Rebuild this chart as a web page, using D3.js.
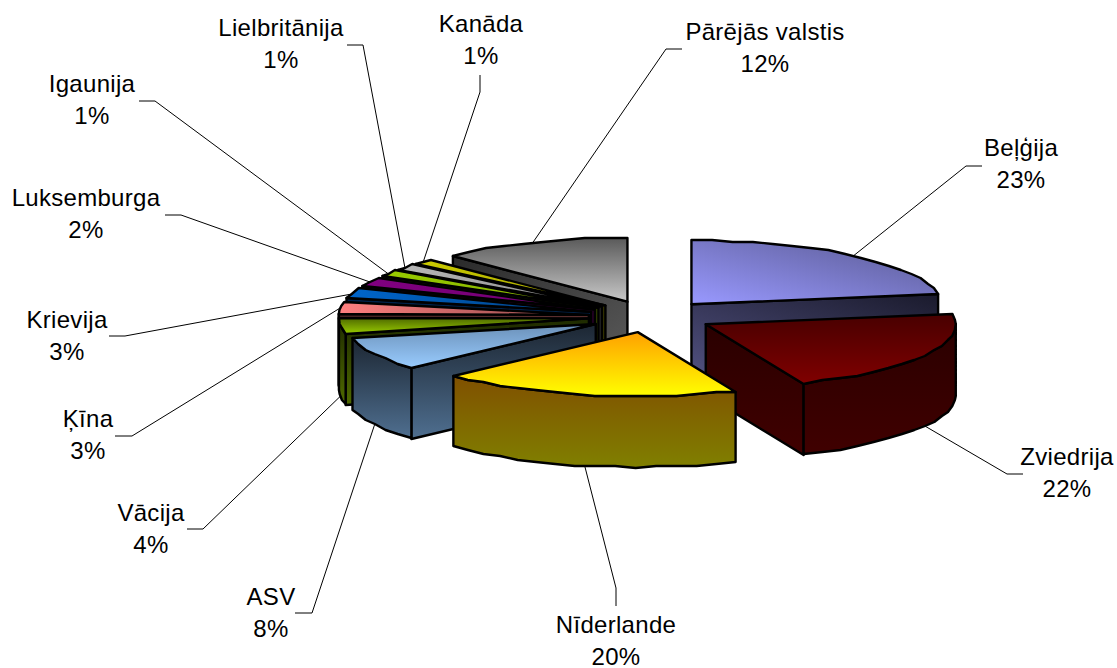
<!DOCTYPE html>
<html>
<head>
<meta charset="utf-8">
<script src="https://cdn.jsdelivr.net/npm/d3@7/dist/d3.min.js"></script>
<style>
html,body{margin:0;padding:0;background:#fff;overflow:hidden}
svg{display:block}
text{font-family:"Liberation Sans",Arial,sans-serif;font-size:24px;letter-spacing:.3px;fill:#000;text-anchor:middle}
</style>
</head>
<body>
<svg id="chart" width="1117" height="668"></svg>
<script>
// Data (share of the pie, clockwise from 12 o'clock)
const categories = ["Beļģija","Zviedrija","Nīderlande","ASV","Vācija","Ķīna","Krievija","Luksemburga","Igaunija","Lielbritānija","Kanāda","Pārējās valstis"];
const values     = [22.4,21.2,19.6,8.1,3.7,3.3,2.7,2.4,1.45,1.45,1.4,12.3];
const percentLabels = [23,22,20,8,4,3,3,2,1,1,1,12];

// Styling per slice
const topFills  = [["#9999ff","#58588f"],["#480000","#800000"],["#ffa000","#ffff00"],["#6b90b8","#99ccff"],["#4f6a00","#99cc00"],["#ff8080","#8a4848"],["#0066cc","#003f80"],["#800080","#700070"],["#99cc00","#80aa00"],["#b8b8b8","#888888"],["#cccc00","#a0a000"],["#5a5a5a","#c8c8c8"]];
const wallFills = [["#1a1a2c","#50507f"],["#2a0000","#400000"],["#805000","#808000"],["#1c2632","#4f6f90"],["#1e2a00","#4f6a00"],["#5a2e2e","#5a2e2e"],["#00224a","#00224a"],["#300030","#300030"],["#2a3800","#2a3800"],["#333333","#333333"],["#303000","#303000"],["#2a2a2a","#5c5c5c"]];

// Label layout: text centre, first baseline, leader elbow and leader end
const labelLayout = [
 {x:1021,y:156,el:[966,166],en:[982,166]},
 {x:1067,y:465,el:[1007,474],en:[1023,474]},
 {x:616,y:633,el:[616,588],en:[616,606]},
 {x:271,y:605,el:[312,613],en:[295,613]},
 {x:151,y:521,el:[203,529],en:[187,529]},
 {x:88,y:427,el:[132,436],en:[115,436]},
 {x:67,y:328,el:[125,336],en:[109,336]},
 {x:86,y:206,el:[181,215],en:[165,215]},
 {x:92,y:92,el:[155,101],en:[139,101]},
 {x:281,y:36,el:[363,45],en:[347,45]},
 {x:481,y:32,el:[480,92],en:[480,75]},
 {x:765,y:40,el:[666,49],en:[682,49]}
];
const lineStep = 32;

// Pie geometry
const cx = 651, cy = 316.5, rx = 250, ry = 64, depth = 71, explode = 0.25;
const TAU = Math.PI*2;
const svg = d3.select("#chart");
const defs = svg.append("defs");
const arcs = d3.pie().sort(null).value(d=>d).startAngle(0).endAngle(TAU)(values);
const px = d3.scaleLinear().domain([-1,1]).range([-rx,rx]);
const py = d3.scaleLinear().domain([-1,1]).range([-ry,ry]);
const line = d3.line().curve(d3.curveLinear);

function apex(a){
  const m=(a.startAngle+a.endAngle)/2;
  return [cx+px(Math.sin(m))*explode, cy-py(Math.cos(m))*explode];
}
function rim(o,t,dy=0){
  return [o[0]+px(Math.sin(t)), Math.round((o[1]-py(Math.cos(t))+dy)/2)*2];
}
function sample(a,b){
  const n=Math.max(1,Math.ceil((b-a)/(5*Math.PI/180)));
  return d3.range(n+1).map(i=>a+(b-a)*i/n);
}
function grad(id,cols,x1,y1,x2,y2){
  const g=defs.append("linearGradient").attr("id",id).attr("x1",x1).attr("y1",y1).attr("x2",x2).attr("y2",y2);
  g.append("stop").attr("offset",0).attr("stop-color",cols[0]);
  g.append("stop").attr("offset",1).attr("stop-color",cols[1]);
  return `url(#${id})`;
}

const drawOrder = [11,10,9,8,7,6,5,4,3,0,1,2];
drawOrder.forEach(i=>{
  const a=arcs[i], o=apex(a), g=svg.append("g").attr("class","slice");
  const s=a.startAngle, e=a.endAngle;
  const isHoriz=i>=5&&i<=10;
  const wall=i===0?grad("w"+i,wallFills[i],1,0,0,1):i===11?grad("w"+i,wallFills[i],0,0,1,1):grad("w"+i,wallFills[i],0,0,0,1);
  const top=i===0?grad("t"+i,topFills[i],0,1,1,0):grad("t"+i,topFills[i],0,0,isHoriz?1:0,isHoriz?0:1);
  const face=(pts,fill)=>g.append("path").attr("d",line(pts)+"Z").attr("fill",fill)
    .attr("stroke","#000").attr("stroke-width",2.4).attr("stroke-linejoin","round");
  [[s,Math.sin(s)<-1e-6],[e,Math.sin(e)>1e-6]].forEach(([t,vis])=>{
    if(!vis) return;
    const r=rim(o,t);
    face([o,r,[r[0],r[1]+depth],[o[0],o[1]+depth]],wall);
  });
  const w0=Math.max(s,Math.PI/2), w1=Math.min(e,Math.PI*1.5);
  if(w1>w0){
    const ts=sample(w0,w1);
    face(ts.map(t=>rim(o,t)).concat(ts.slice().reverse().map(t=>rim(o,t,depth))),wall);
  }
  face([o].concat(sample(s,e).map(t=>rim(o,t))),top);
});

// Leaders and labels
categories.forEach((c,i)=>{
  const a=arcs[i], o=apex(a), m=(a.startAngle+a.endAngle)/2, L=labelLayout[i];
  const front=m>Math.PI/2&&m<Math.PI*1.5;
  svg.insert("path","g.slice").attr("fill","none").attr("stroke","#000").attr("stroke-width",1)
    .attr("d",line([rim(o,m,front?depth:0),L.el,L.en]));
});
categories.forEach((c,i)=>{
  const L=labelLayout[i];
  svg.append("text").attr("x",L.x).attr("y",L.y).text(c);
  svg.append("text").attr("x",L.x).attr("y",L.y+lineStep).text(percentLabels[i]+"%");
});
</script>
</body>
</html>
